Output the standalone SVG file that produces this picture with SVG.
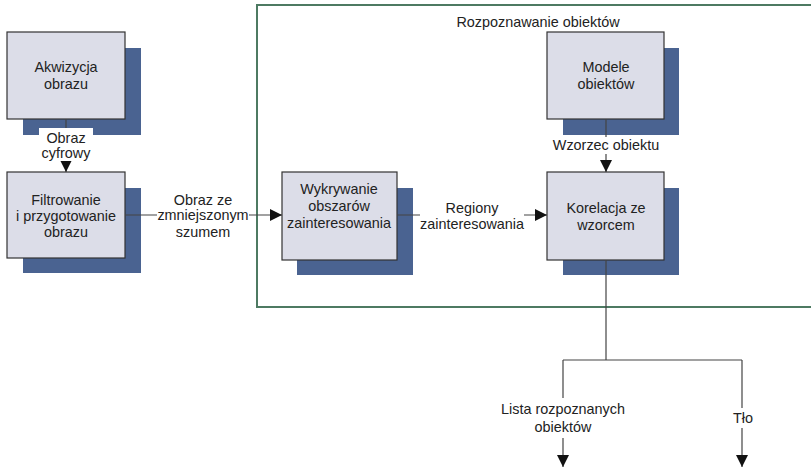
<svg xmlns="http://www.w3.org/2000/svg" width="811" height="474" viewBox="0 0 811 474">
<defs>
<style>
.box{fill:#dcdde8;stroke:#333;stroke-width:1.2}
.sh{fill:#4a6391}
.t{font-family:"Liberation Sans",Arial,sans-serif;font-size:14.4px;fill:#222;text-anchor:middle}
.ln{fill:none;stroke:#444;stroke-width:1.2}
.bg{fill:#fff}
.frame{fill:none;stroke:#4d7a62;stroke-width:2}
</style>
<marker id="arr" markerUnits="userSpaceOnUse" markerWidth="12" markerHeight="12" viewBox="0 0 10 10" refX="10" refY="5" orient="auto">
<path d="M0,0 L10,5 L0,10 Z" fill="#111"/>
</marker>
</defs>
<rect width="811" height="474" fill="#fff"/>
<g id="frame">
<rect class="frame" x="257" y="5" width="570" height="302"/>
<text class="t" x="538" y="27">Rozpoznawanie obiektów</text>
</g>
<g id="akwizycja">
<rect class="sh" x="23" y="48" width="118" height="87"/>
<rect class="box" x="7" y="32" width="118" height="87"/>
<text class="t" x="66" y="72">Akwizycja</text>
<text class="t" x="66" y="89">obrazu</text>
</g>
<g id="filtrowanie">
<rect class="sh" x="23" y="188" width="118" height="85"/>
<rect class="box" x="7" y="172" width="118" height="86"/>
<text class="t" x="66" y="205">Filtrowanie</text>
<text class="t" x="66" y="221">i przygotowanie</text>
<text class="t" x="66" y="237">obrazu</text>
</g>
<g id="wykrywanie">
<rect class="sh" x="297" y="188" width="116" height="87"/>
<rect class="box" x="282" y="172" width="115" height="88"/>
<text class="t" x="339" y="194">Wykrywanie</text>
<text class="t" x="339" y="211">obszarów</text>
<text class="t" x="339" y="228">zainteresowania</text>
</g>
<g id="modele">
<rect class="sh" x="563" y="48" width="116" height="87"/>
<rect class="box" x="547" y="32" width="117" height="87"/>
<text class="t" x="606" y="72">Modele</text>
<text class="t" x="606" y="89">obiektów</text>
</g>
<g id="korelacja">
<rect class="sh" x="563" y="188" width="116" height="87"/>
<rect class="box" x="547" y="172" width="117" height="88"/>
<text class="t" x="606" y="213">Korelacja ze</text>
<text class="t" x="606" y="230">wzorcem</text>
</g>
<g id="connectors">
<line class="ln" x1="66" y1="119" x2="66" y2="172" marker-end="url(#arr)"/>
<line class="ln" x1="125" y1="215" x2="282" y2="215" marker-end="url(#arr)"/>
<line class="ln" x1="397" y1="215" x2="547" y2="215" marker-end="url(#arr)"/>
<line class="ln" x1="606" y1="119" x2="606" y2="172" marker-end="url(#arr)"/>
<path class="ln" d="M606,260 V360 M563,360 H742"/>
<line class="ln" x1="563" y1="360" x2="563" y2="467" marker-end="url(#arr)"/>
<line class="ln" x1="742" y1="360" x2="742" y2="467" marker-end="url(#arr)"/>
</g>
<g id="labels">
<rect class="bg" x="39" y="128" width="54" height="33"/>
<text class="t" x="66" y="143">Obraz</text>
<text class="t" x="66" y="158">cyfrowy</text>
<rect class="bg" x="157" y="190" width="92" height="52"/>
<text class="t" x="203" y="205">Obraz ze</text>
<text class="t" x="203" y="220">zmniejszonym</text>
<text class="t" x="203" y="237">szumem</text>
<rect class="bg" x="420" y="198" width="104" height="36"/>
<text class="t" x="472" y="213">Regiony</text>
<text class="t" x="472" y="229">zainteresowania</text>
<rect class="bg" x="551" y="137" width="110" height="17"/>
<text class="t" x="606" y="150">Wzorzec obiektu</text>
<rect class="bg" x="501" y="398" width="124" height="40"/>
<text class="t" x="563" y="414">Lista rozpoznanych</text>
<text class="t" x="563" y="432">obiektów</text>
<rect class="bg" x="731" y="408" width="23" height="20"/>
<text class="t" x="743" y="423">Tło</text>
</g>
</svg>
